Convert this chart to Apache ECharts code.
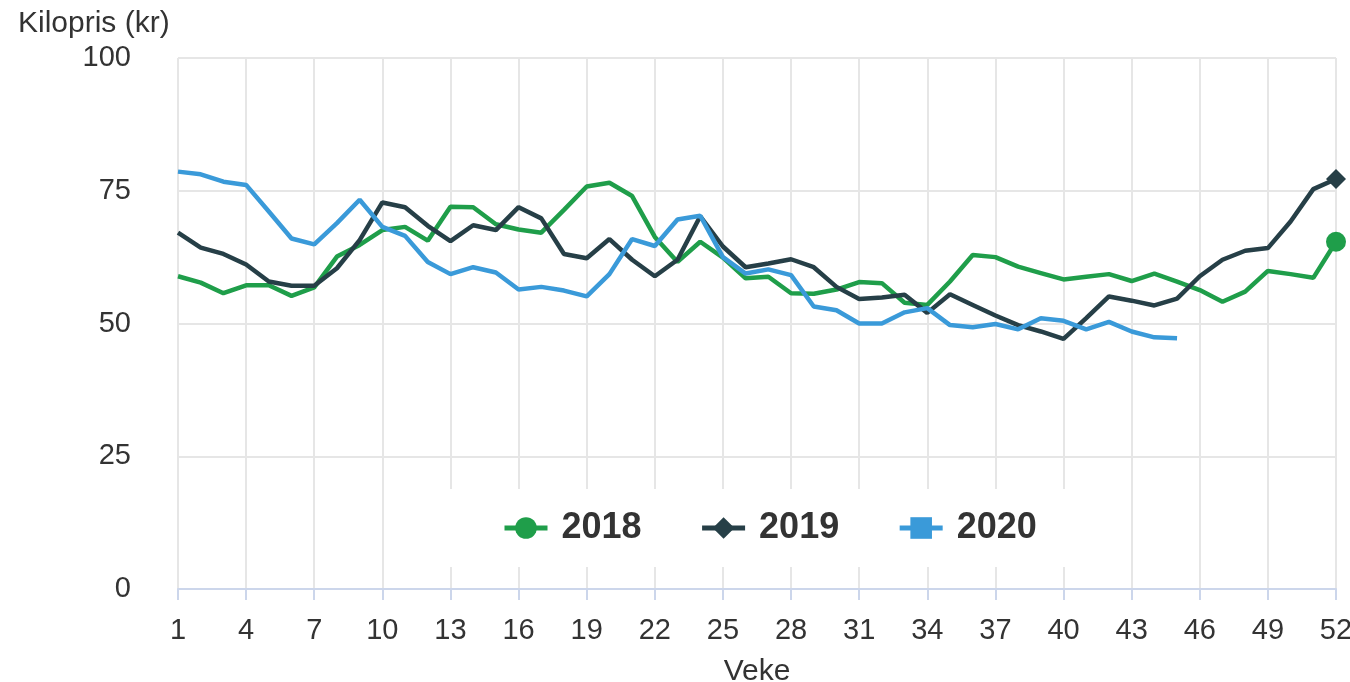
<!DOCTYPE html>
<html lang="no">
<head>
    <meta charset="UTF-8">
    <title>Kilopris</title>
    <style>
        html, body { margin: 0; padding: 0; background: #fff; }
    </style>
</head>
<body>
    <div id="main" style="width:1350px; height:682px;"></div>
    <script src="https://cdn.jsdelivr.net/npm/echarts@6/dist/echarts.min.js"></script>
    <script>
    // veker 1-52
    var weeks = ['1','2','3','4','5','6','7','8','9','10','11','12','13','14','15','16','17','18','19','20',
        '21','22','23','24','25','26','27','28','29','30','31','32','33','34','35','36','37','38','39','40',
        '41','42','43','44','45','46','47','48','49','50','51','52'];

    var pris2018 = [58.9, 57.7, 55.7, 57.2, 57.2, 55.2, 56.8, 62.6, 64.8, 67.6,
        68.2, 65.6, 72.0, 71.9, 68.7, 67.7, 67.1, 71.4, 75.8, 76.5,
        74.0, 66.3, 61.6, 65.4, 62.4, 58.5, 58.8, 55.7, 55.6, 56.4,
        57.8, 57.6, 53.9, 53.5, 57.9, 62.9, 62.5, 60.7, 59.5, 58.3,
        58.8, 59.3, 58.0, 59.4, 57.9, 56.3, 54.1, 56.0, 59.9, 59.3,
        58.6, 65.4];

    var pris2019 = [67.1, 64.3, 63.1, 61.1, 57.9, 57.1, 57.1, 60.4, 65.7, 72.8,
        71.9, 68.4, 65.5, 68.5, 67.6, 71.9, 69.8, 63.1, 62.3, 65.9,
        62.0, 58.9, 62.0, 70.2, 64.5, 60.6, 61.3, 62.1, 60.6, 56.9,
        54.6, 54.9, 55.4, 52.0, 55.5, 53.5, 51.5, 49.7, 48.5, 47.1,
        51.0, 55.1, 54.3, 53.4, 54.7, 58.9, 62.0, 63.7, 64.2, 69.2,
        75.3, 77.2];

    var pris2020 = [78.6, 78.1, 76.7, 76.1, 71.1, 66.0, 64.9, 68.9, 73.3, 68.2,
        66.5, 61.6, 59.3, 60.6, 59.6, 56.4, 56.9, 56.2, 55.1, 59.3,
        65.9, 64.6, 69.6, 70.3, 62.5, 59.4, 60.2, 59.1, 53.2, 52.5,
        50.0, 50.0, 52.1, 52.9, 49.7, 49.3, 49.9, 48.9, 51.0, 50.5,
        48.9, 50.3, 48.5, 47.4, 47.2];

    var yTicks = { min: 0, max: 100, step: 25 };

    var font = "'Liberation Sans', Arial, sans-serif";

    // bare siste punkt får markør
    function lastOnly(size) {
        return function (val, params) {
            return params.dataIndex === weeks.length - 1 ? size : 0;
        };
    }

    function lineSeries(name, data, color, symbol, size) {
        return {
            name: name,
            type: 'line',
            data: data,
            symbol: symbol,
            symbolSize: lastOnly(size),
            showSymbol: true,
            lineStyle: { width: 4.5, color: color },
            itemStyle: { color: color },
            emphasis: { disabled: true },
            animation: false
        };
    }

    var myChart = echarts.init(document.getElementById('main'));

    myChart.setOption({
        textStyle: { fontFamily: font },
        title: {
            text: 'Kilopris (kr)',
            left: 13,
            top: 4,
            textStyle: { fontSize: 30, fontWeight: 'normal', color: '#333', fontFamily: font }
        },
        grid: { left: 178, right: 14, top: 58, bottom: 93, outerBoundsMode: 'none', containLabel: false },
        legend: {
            top: 489,
            left: 417,
            padding: [21, 85],
            backgroundColor: '#fff',
            itemWidth: 43,
            itemHeight: 27,
            itemGap: 58,
            lineStyle: { width: 5 },
            textStyle: { fontSize: 36, fontWeight: 'bold', color: '#333', fontFamily: font, padding: [0, 0, 0, 9] },
            data: ['2018', '2019', '2020']
        },
        xAxis: {
            type: 'category',
            data: weeks,
            boundaryGap: false,
            name: 'Veke',
            nameLocation: 'middle',
            nameGap: 68,
            nameTextStyle: { fontSize: 30, color: '#333' },
            axisLine: { lineStyle: { color: '#ccd6eb', width: 2 } },
            axisTick: { interval: 2, length: 11, lineStyle: { color: '#ccd6eb', width: 2 } },
            axisLabel: { interval: 2, fontSize: 29, color: '#333', margin: 27 },
            splitLine: { show: true, interval: 2, lineStyle: { color: '#e6e6e6', width: 2 } }
        },
        yAxis: {
            type: 'value',
            min: yTicks.min,
            max: yTicks.max,
            interval: yTicks.step,
            axisLine: { show: false },
            axisTick: { show: false },
            axisLabel: { fontSize: 29, color: '#333', margin: 47, padding: [6, 0, 0, 0] },
            splitLine: { lineStyle: { color: '#e6e6e6', width: 2 } }
        },
        series: [
            lineSeries('2018', pris2018, '#1f9e4a', 'circle', 20),
            lineSeries('2019', pris2019, '#263f47', 'diamond', 20),
            lineSeries('2020', pris2020, '#3a9ad9', 'rect', 16)
        ]
    });
    </script>
</body>
</html>
